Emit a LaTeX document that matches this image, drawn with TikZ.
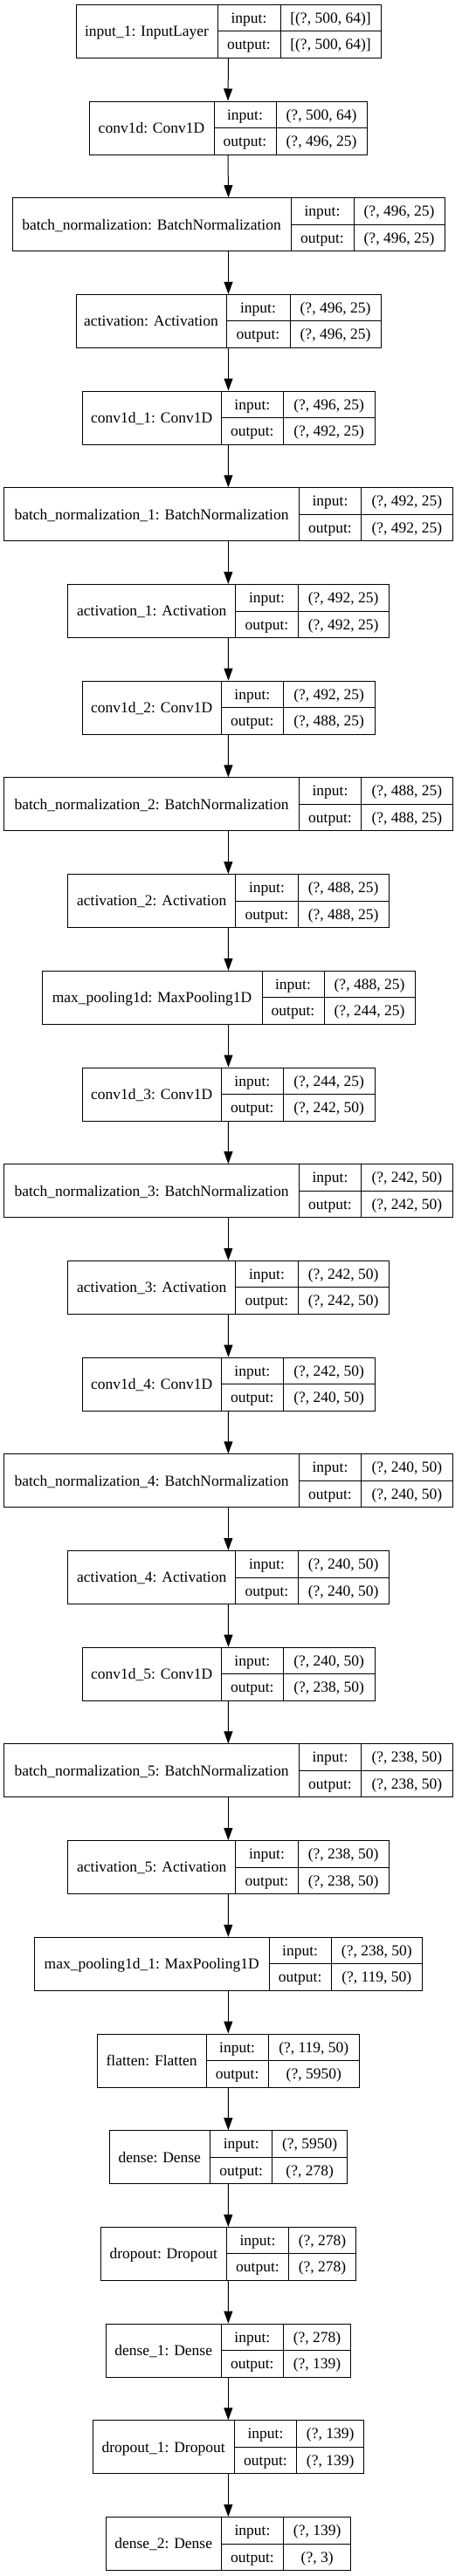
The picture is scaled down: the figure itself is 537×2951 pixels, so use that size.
\documentclass[tikz,border=0pt]{standalone}
\usepackage{fontspec}
\setmainfont{Liberation Serif}
\usetikzlibrary{arrows.meta}
\tikzset{
  layerbox/.style={draw=black, line width=1pt, inner sep=0pt, fill=white},
  divider/.style={draw=black, line width=1pt},
  txt/.style={inner sep=0pt, anchor=base, font=\fontsize{17.5}{20}\selectfont},
  arr/.style={draw=black, line width=1pt, -{Triangle[length=14pt,width=10pt]}},
}
% #1 name, #2 index, #3 L, #4 s1, #5 s2, #6 R, #7 label, #8 input shape, #9 output shape
\newcommand\kerlayer[9]{%
  \pgfmathsetmacro\ytop{5.3+110.7*#2}%
  \node[layerbox, minimum width={#6-#3}, minimum height=61] (#1) at ({(#3+#6)/2},{\ytop+30.5}) {};
  \draw[divider] (#4,\ytop) -- (#4,{\ytop+61});
  \draw[divider] (#5,\ytop) -- (#5,{\ytop+61});
  \draw[divider] (#4,{\ytop+30.5}) -- (#6,{\ytop+30.5});
  \node[txt] (#1-l) at ({(#3+#4)/2},{\ytop+36.3}) {#7};
  \node[txt] (#1-ik) at ({(#4+#5)/2},{\ytop+21.05}) {input:};
  \node[txt] (#1-ok) at ({(#4+#5)/2},{\ytop+51.55}) {output:};
  \node[txt] (#1-iv) at ({(#5+#6)/2},{\ytop+21.05}) {#8};
  \node[txt] (#1-ov) at ({(#5+#6)/2},{\ytop+51.55}) {#9};
}
\begin{document}
\begin{tikzpicture}[x=1pt,y=-1pt]
\useasboundingbox (0,0) rectangle (537,2951);
\kerlayer{b0}{0}{87}{249}{321}{436}{input\_1: InputLayer}{[(?, 500, 64)]}{[(?, 500, 64)]}
\kerlayer{b1}{1}{102}{245}{316}{420}{conv1d: Conv1D}{(?, 500, 64)}{(?, 496, 25)}
\kerlayer{b2}{2}{14}{333}{405}{509}{batch\_normalization: BatchNormalization}{(?, 496, 25)}{(?, 496, 25)}
\kerlayer{b3}{3}{87}{259}{332}{436}{activation: Activation}{(?, 496, 25)}{(?, 496, 25)}
\kerlayer{b4}{4}{94}{253.3}{324.3}{429}{conv1d\_1: Conv1D}{(?, 496, 25)}{(?, 492, 25)}
\kerlayer{b5}{5}{4.7}{342.3}{413.7}{518}{batch\_normalization\_1: BatchNormalization}{(?, 492, 25)}{(?, 492, 25)}
\kerlayer{b6}{6}{77.7}{269.7}{341.3}{445}{activation\_1: Activation}{(?, 492, 25)}{(?, 492, 25)}
\kerlayer{b7}{7}{94}{253.3}{324.3}{429}{conv1d\_2: Conv1D}{(?, 492, 25)}{(?, 488, 25)}
\kerlayer{b8}{8}{4.7}{342.3}{413.7}{518}{batch\_normalization\_2: BatchNormalization}{(?, 488, 25)}{(?, 488, 25)}
\kerlayer{b9}{9}{77.7}{269.7}{341.3}{445}{activation\_2: Activation}{(?, 488, 25)}{(?, 488, 25)}
\kerlayer{b10}{10}{48}{300}{371}{475}{max\_pooling1d: MaxPooling1D}{(?, 488, 25)}{(?, 244, 25)}
\kerlayer{b11}{11}{94}{253.3}{324.3}{429}{conv1d\_3: Conv1D}{(?, 244, 25)}{(?, 242, 50)}
\kerlayer{b12}{12}{4.7}{342.3}{413.7}{518}{batch\_normalization\_3: BatchNormalization}{(?, 242, 50)}{(?, 242, 50)}
\kerlayer{b13}{13}{77.7}{269.7}{341.3}{445}{activation\_3: Activation}{(?, 242, 50)}{(?, 242, 50)}
\kerlayer{b14}{14}{94}{253.3}{324.3}{429}{conv1d\_4: Conv1D}{(?, 242, 50)}{(?, 240, 50)}
\kerlayer{b15}{15}{4.7}{342.3}{413.7}{518}{batch\_normalization\_4: BatchNormalization}{(?, 240, 50)}{(?, 240, 50)}
\kerlayer{b16}{16}{77.7}{269.7}{341.3}{445}{activation\_4: Activation}{(?, 240, 50)}{(?, 240, 50)}
\kerlayer{b17}{17}{94}{253.3}{324.3}{429}{conv1d\_5: Conv1D}{(?, 240, 50)}{(?, 238, 50)}
\kerlayer{b18}{18}{4.7}{342.3}{413.7}{518}{batch\_normalization\_5: BatchNormalization}{(?, 238, 50)}{(?, 238, 50)}
\kerlayer{b19}{19}{77.7}{269.7}{341.3}{445}{activation\_5: Activation}{(?, 238, 50)}{(?, 238, 50)}
\kerlayer{b20}{20}{39.3}{308}{379.3}{483.3}{max\_pooling1d\_1: MaxPooling1D}{(?, 238, 50)}{(?, 119, 50)}
\kerlayer{b21}{21}{111.3}{236}{307.3}{411.3}{flatten: Flatten}{(?, 119, 50)}{(?, 5950)}
\kerlayer{b22}{22}{125}{240.7}{311.7}{397.7}{dense: Dense}{(?, 5950)}{(?, 278)}
\kerlayer{b23}{23}{115.3}{259.3}{330.7}{407.3}{dropout: Dropout}{(?, 278)}{(?, 278)}
\kerlayer{b24}{24}{121}{253.3}{324.3}{401.7}{dense\_1: Dense}{(?, 278)}{(?, 139)}
\kerlayer{b25}{25}{106}{268.3}{339.7}{416.7}{dropout\_1: Dropout}{(?, 139)}{(?, 139)}
\kerlayer{b26}{26}{121}{253.3}{324.7}{401.7}{dense\_2: Dense}{(?, 139)}{(?, 3)}
\foreach \i [evaluate=\i as \j using int(\i+1)] in {0,...,25} {
  \draw[arr] (b\i.south) -- (b\j.north);
}
\end{tikzpicture}
\end{document}
